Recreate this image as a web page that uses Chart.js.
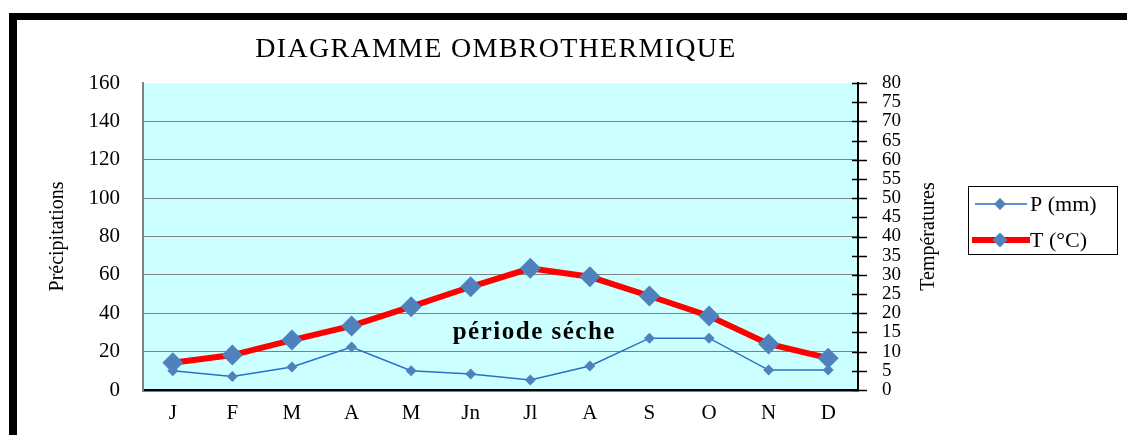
<!DOCTYPE html>
<html><head><meta charset="utf-8">
<script src="https://cdn.jsdelivr.net/npm/chart.js@4"></script>
<style>html,body{margin:0;padding:0;background:#fff;overflow:hidden}canvas{display:block}</style>
</head><body>
<canvas id="c" width="1127" height="435"></canvas>
<script>
const months = ['J','F','M','A','M','Jn','Jl','A','S','O','N','D'];
const precipitation = [10, 7, 12, 22.4, 10, 8.3, 5.2, 12.5, 27, 27, 10.4, 10.4];
const temperature = [7.1, 9.1, 13, 16.7, 21.7, 26.9, 31.7, 29.5, 24.5, 19.3, 12, 8.3];
const precipTickValues = [0, 20, 40, 60, 80, 100, 120, 140, 160];
const tempTickValues = [0, 5, 10, 15, 20, 25, 30, 35, 40, 45, 50, 55, 60, 65, 70, 75, 80];
const seriesLabels = ['P (mm)', 'T (°C)'];
const titleText = 'DIAGRAMME OMBROTHERMIQUE';
const leftAxisTitle = 'Précipitations';
const rightAxisTitle = 'Températures';
const annotationText = 'période séche';

const SERIF = "'Liberation Serif','Times New Roman',serif";

function diamond(ctx, x, y, r, color) {
  ctx.beginPath();
  ctx.moveTo(x - r, y); ctx.lineTo(x, y - r); ctx.lineTo(x + r, y); ctx.lineTo(x, y + r);
  ctx.closePath();
  ctx.fillStyle = color; ctx.fill();
}

const decor = {
  id: 'decor',
  beforeDraw(chart) {
    const {ctx, chartArea: a} = chart;
    ctx.save();
    ctx.fillStyle = '#fff'; ctx.fillRect(0, 0, chart.width, chart.height);
    ctx.fillStyle = '#000';
    ctx.fillRect(9, 13, chart.width - 9, 7);
    ctx.fillRect(9, 13, 8, chart.height - 13);
    ctx.fillStyle = '#CCFFFF';
    ctx.fillRect(a.left, a.top, a.right - a.left, a.bottom - a.top);
    ctx.restore();
  },
  afterDraw(chart) {
    const {ctx} = chart;
    const y2 = chart.scales.y2, xs = chart.scales.x, ys = chart.scales.y;
    ctx.save();
    // title
    ctx.fillStyle = '#000';
    ctx.font = '28px ' + SERIF;
    ctx.letterSpacing = '1.3px';
    ctx.textAlign = 'center'; ctx.textBaseline = 'alphabetic';
    ctx.fillText(titleText, 496, 57);
    ctx.letterSpacing = '0px';
    // axis titles
    ctx.font = '20px ' + SERIF;
    ctx.textBaseline = 'middle';
    [[58, leftAxisTitle], [929, rightAxisTitle]].forEach(([x, t]) => {
      ctx.save();
      ctx.translate(x, (chart.chartArea.top + chart.chartArea.bottom) / 2);
      ctx.rotate(-Math.PI / 2);
      ctx.fillText(t, 0, 0);
      ctx.restore();
    });
    // right axis tick marks crossing the axis
    ctx.strokeStyle = '#000'; ctx.lineWidth = 1.5;
    y2.ticks.forEach(t => {
      const py = Math.round(y2.getPixelForValue(t.value)) + 0.5;
      ctx.beginPath(); ctx.moveTo(y2.left - 6, py); ctx.lineTo(y2.left + 9, py); ctx.stroke();
    });
    // annotation
    ctx.font = 'bold 25px ' + SERIF;
    ctx.letterSpacing = '1.5px';
    ctx.textAlign = 'center'; ctx.textBaseline = 'alphabetic';
    ctx.fillText(annotationText, xs.getPixelForValue(6) + 4, ys.getPixelForValue(26.4));
    ctx.letterSpacing = '0px';
    // legend
    ctx.strokeStyle = '#000'; ctx.lineWidth = 1;
    ctx.strokeRect(968.5, 186.5, 149, 68);
    const rows = [{d: chart.data.datasets[1], y: 204, x0: 975, x1: 1027, r: 6},
                  {d: chart.data.datasets[0], y: 240, x0: 972, x1: 1030, r: 7.5}];
    ctx.font = '22px ' + SERIF;
    ctx.textAlign = 'left'; ctx.textBaseline = 'middle';
    rows.forEach(row => {
      ctx.strokeStyle = row.d.borderColor; ctx.lineWidth = row.d.borderWidth;
      ctx.beginPath(); ctx.moveTo(row.x0, row.y); ctx.lineTo(row.x1, row.y); ctx.stroke();
      diamond(ctx, 1000, row.y, row.r, row.d.pointBackgroundColor);
      ctx.fillStyle = '#000';
      ctx.fillText(row.d.label, 1030, row.y + 1);
    });
    ctx.restore();
  }
};

new Chart(document.getElementById('c'), {
  type: 'line',
  data: {
    labels: months,
    datasets: [
      { label: seriesLabels[1], data: temperature, yAxisID: 'y2', order: 0,
        borderColor: '#FF0000', borderWidth: 6, tension: 0,
        pointStyle: 'rectRot', pointRadius: 10.5, pointBorderWidth: 0,
        pointBackgroundColor: '#4F81BD', pointBorderColor: '#4F81BD' },
      { label: seriesLabels[0], data: precipitation, yAxisID: 'y', order: 1,
        borderColor: '#2A6FC9', borderWidth: 1.5, tension: 0,
        pointStyle: 'rectRot', pointRadius: 5.5, pointBorderWidth: 0,
        pointBackgroundColor: '#4F81BD', pointBorderColor: '#4F81BD' }
    ]
  },
  options: {
    responsive: false, animation: false, devicePixelRatio: 1,
    layout: { padding: { left: 20, right: 182, top: 83, bottom: 0 } },
    plugins: { legend: { display: false }, title: { display: false }, tooltip: { enabled: false } },
    scales: {
      x: { type: 'category', offset: true,
           grid: { display: false, drawTicks: false },
           border: { color: '#000', width: 2.5 },
           ticks: { color: '#000', font: { family: SERIF, size: 21 }, padding: 11, maxRotation: 0, autoSkip: false },
           afterFit(s) { s.height = 45; } },
      y: { position: 'left', min: 0, max: 160,
           afterBuildTicks(s) { s.ticks = precipTickValues.map(v => ({value: v})); },
           grid: { color: c => (c.tick && (c.tick.value === 160 || c.tick.value === 0)) ? 'rgba(0,0,0,0)' : '#808080', lineWidth: 1, drawTicks: false },
           border: { color: '#808080', width: 2 },
           ticks: { color: '#000', font: { family: SERIF, size: 21 }, padding: 23, autoSkip: false },
           afterFit(s) { s.width = 123; } },
      y2: { position: 'right', min: 0, max: 80,
            afterBuildTicks(s) { s.ticks = tempTickValues.map(v => ({value: v})); },
            grid: { drawOnChartArea: false, drawTicks: false },
            border: { color: '#000', width: 2 },
            ticks: { color: '#000', font: { family: SERIF, size: 19 }, padding: 24, autoSkip: false },
            afterFit(s) { s.width = 87; } }
    }
  },
  plugins: [decor]
});
</script>
</body></html>
